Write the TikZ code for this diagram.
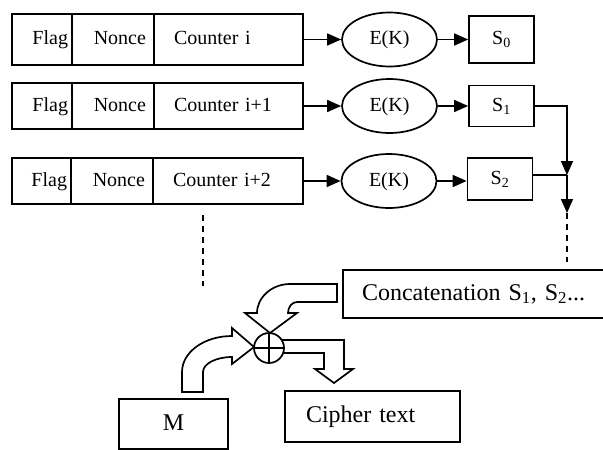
\documentclass[tikz,border=0pt]{standalone}
\usepackage{fontspec}
\setmainfont{Liberation Serif}
\usetikzlibrary{shapes.geometric,arrows.meta}
\begin{document}
\begin{tikzpicture}[x=1pt,y=-1pt,line width=1.7pt,
  every node/.style={font=\fontsize{20}{24}\selectfont,inner sep=0pt,text height=14pt,text depth=4pt},
  cellbox/.style={draw,rectangle},
  ekbox/.style={draw,ellipse,minimum width=95pt,minimum height=54pt},
  sbox/.style={draw,rectangle,minimum width=65pt},
  bigtext/.style={font=\fontsize{24}{28}\selectfont,text height=17pt,text depth=5pt},
  arr/.style={-{Triangle[length=14pt,width=12pt]}},
  dashline/.style={dash pattern=on 6pt off 5pt},
  blockarr/.style={draw,fill=white,line join=miter}]
\useasboundingbox (0,0) rectangle (603,450);

% row 1
\node[cellbox,minimum width=60pt,minimum height=51pt,text width=52pt,align=right] (f1) at (42,39.5) {Flag};
\node[cellbox,minimum width=82pt,minimum height=51pt,text width=66pt,align=right] (n1) at (113,39.5) {Nonce};
\node[cellbox,minimum width=149pt,minimum height=51pt,text width=109pt,align=left] (c1) at (228.5,39.5) {Counter i};
\node[ekbox] (e1) at (389.5,39.5) {E(K)};
\node[sbox,minimum height=47pt] (s0) at (501.5,39.5) {S\textsubscript{0}};
\draw[arr] (c1) -- (e1);
\draw[arr] (e1) -- (s0);

% row 2
\node[cellbox,minimum width=60pt,minimum height=46pt,text width=52pt,align=right] (f2) at (42,106) {Flag};
\node[cellbox,minimum width=82pt,minimum height=46pt,text width=66pt,align=right] (n2) at (113,106) {Nonce};
\node[cellbox,minimum width=149pt,minimum height=46pt,text width=109pt,align=left] (c2) at (228.5,106) {Counter i+1};
\node[ekbox] (e2) at (389.5,106) {E(K)};
\node[sbox,minimum height=41pt] (s1) at (501.5,106) {S\textsubscript{1}};
\draw[arr] (c2) -- (e2);
\draw[arr] (e2) -- (s1);

% row 3
\node[cellbox,minimum width=59pt,minimum height=46pt,text width=51pt,align=right] (f3) at (41.5,181) {Flag};
\node[cellbox,minimum width=82pt,minimum height=46pt,text width=66pt,align=right] (n3) at (112,181) {Nonce};
\node[cellbox,minimum width=150pt,minimum height=46pt,text width=110pt,align=left] (c3) at (228,181) {Counter i+2};
\node[ekbox] (e3) at (389,181) {E(K)};
\node[sbox,minimum height=42pt] (s2) at (500,179) {S\textsubscript{2}};
\draw[arr] (c3) -- (e3);
\draw[arr] (e3.east) -- (e3.east -| s2.west);

% collecting line
\coordinate (j1) at (567,175);
\coordinate (j2) at (567,213);
\coordinate (j3) at (567,262);
\draw[arr] (s1.east) -| (j1);
\draw (j1 -| s2.east) -- (j1);
\draw[arr] (j1) -- (j2);
\draw[dashline] (j2) -- (j3);

% dashed continuation below rows
\coordinate (d1) at (203,215);
\coordinate (d2) at (203,286);
\draw[dashline] (d1) -- (d2);

% bottom boxes
\node[draw,bigtext,minimum width=270pt,minimum height=48pt,text width=232pt,align=left] (cat) at (478,294) {Concatenation S\textsubscript{1}, S\textsubscript{2}...};
\node[draw,bigtext,minimum width=175pt,minimum height=51pt,text width=133pt,align=left] (ct) at (372.5,416.5) {Cipher text};
\node[draw,bigtext,minimum width=109pt,minimum height=50pt] (m) at (173.5,424) {M};

% block arrows
\draw[blockarr] (337,284) -- (290,284) .. controls (271.8,284) and (257,297.5) .. (257,313)
  -- (245,313) -- (270,333) -- (297,313) -- (288,313)
  .. controls (288,307) and (292,302) .. (297,302) -- (337,302) -- cycle;
\draw[blockarr] (182,392) -- (182,372) .. controls (182,352) and (204.4,336) .. (232,336)
  -- (232,328) -- (254,347) -- (232,364) -- (232,357)
  .. controls (216,357) and (203,363.7) .. (203,372) -- (203,392) -- cycle;
\draw[blockarr] (278,340) -- (344,340) -- (344,369) -- (353,369) -- (334,383)
  -- (315,369) -- (324,369) -- (324,353) -- (278,353) -- cycle;

% xor
\node[draw,circle,fill=white,minimum size=30pt,text height=0pt,text depth=0pt] (xor) at (269,348) {};
\draw (xor.north) -- (xor.south);
\draw (xor.west) -- (xor.east);
\end{tikzpicture}
\end{document}
